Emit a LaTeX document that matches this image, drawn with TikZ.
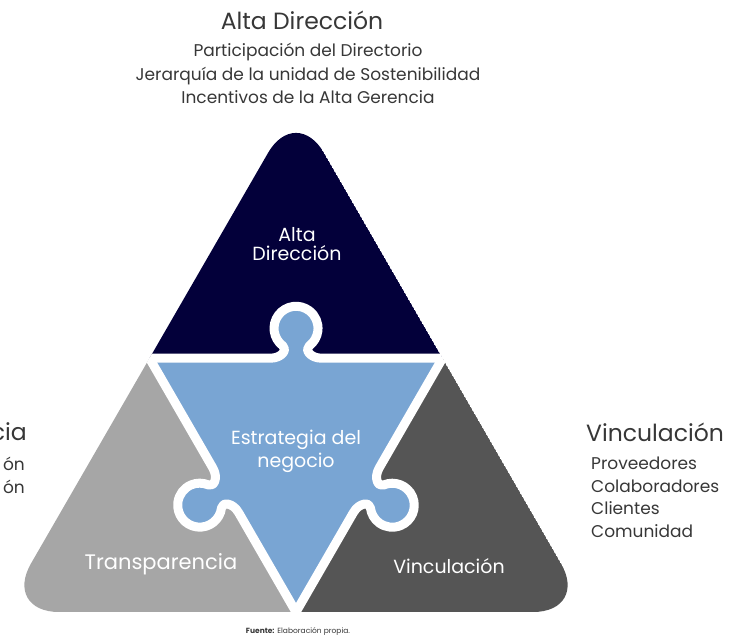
\documentclass[tikz,border=0pt]{standalone}
\usepackage{fontspec}
\setmainfont{Poppins}
\usetikzlibrary{calc}

\tikzset{
  knobedge/.pic={
    \fill[center_color] (-26,-8) -- (-26,0) .. controls (-14,0) and (-8.4,8.8) .. (-13.2,12.4) arc[start angle=233, end angle=-53, radius=22] .. controls (8.4,8.8) and (14,0) .. (26,0) -- (26,-8) -- cycle;
    \draw[gapline] (-170,0) -- (-26,0) .. controls (-14,0) and (-8.4,8.8) .. (-13.2,12.4) arc[start angle=233, end angle=-53, radius=22] .. controls (8.4,8.8) and (14,0) .. (26,0) -- (170,0);
  }
}

\begin{document}
\begin{tikzpicture}[x=1pt, y=1pt,
  gapline/.style={draw=white, line width=9pt, line join=round},
  head text/.style={text=text_color, font=\fontsize{23.5}{26}\selectfont, inner sep=0pt},
  list text/.style={text=text_color, font=\fontsize{17}{23.3}\selectfont, inner sep=0pt},
  piece text/.style={text=white, font=\fontsize{19}{18.5}\selectfont, inner sep=0pt, align=center}]
\definecolor{top_color}{RGB}{3,0,58}
\definecolor{center_color}{RGB}{121,165,211}
\definecolor{left_color}{RGB}{166,166,166}
\definecolor{right_color}{RGB}{85,85,85}
\definecolor{text_color}{RGB}{55,55,55}

\useasboundingbox (0,0) rectangle (732,643);

\coordinate (apex) at (296,538.5);
\coordinate (bl) at (3,31);
\coordinate (br) at (589,31);
\coordinate (lm) at ($(apex)!0.5!(bl)$);
\coordinate (rm) at ($(apex)!0.5!(br)$);
\coordinate (bm) at ($(bl)!0.5!(br)$);

\begin{scope}
\clip[rounded corners=56pt] (bm) -- (br) -- (apex) -- (bl) -- cycle;
\fill[top_color] (apex) -- (lm) -- (rm) -- cycle;
\fill[left_color] (lm) -- (bl) -- (bm) -- cycle;
\fill[right_color] (rm) -- (bm) -- (br) -- cycle;
\fill[center_color] (lm) -- (rm) -- (bm) -- cycle;

\path ($(lm)!0.5!(rm)$) pic {knobedge};
\path ($(lm)!0.52!(bm)$) pic[rotate=120] {knobedge};
\path ($(rm)!0.52!(bm)$) pic[rotate=-120] {knobedge};
\end{scope}

\node[piece text] (topPiece) at (297,399) {Alta\\Dirección};
\node[piece text, font=\fontsize{19}{23}\selectfont] (centerPiece) at (296,192) {Estrategia del\\negocio};
\node[piece text, font=\fontsize{21}{23}\selectfont] (leftPiece) at (161,79) {Transparencia};
\node[piece text] (rightPiece) at (449,77) {Vinculación};

\node[head text] (topTitle) at (302,623) {Alta Dirección};
\node[list text, align=center] (topList) at (308,569.5) {Participación del Directorio\\Jerarquía de la unidad de Sostenibilidad\\Incentivos de la Alta Gerencia};

\node[head text, anchor=west] (rightTitle) at (586,211) {Vinculación};
\node[list text, align=left, anchor=west, font=\fontsize{17}{22.5}\selectfont] (rightList) at (591,145.5) {Proveedores\\Colaboradores\\Clientes\\Comunidad};

\node[head text, anchor=east] (leftTitle) at (27,211) {cia};
\node[list text, anchor=east] (leftItemA) at (25,179) {ón};
\node[list text, anchor=east] (leftItemB) at (25,156) {ón};

\node[text=text_color, font=\fontsize{7.5}{9}\selectfont] (source) at (298,11) {\textbf{Fuente:} Elaboración propia.};
\end{tikzpicture}
\end{document}
